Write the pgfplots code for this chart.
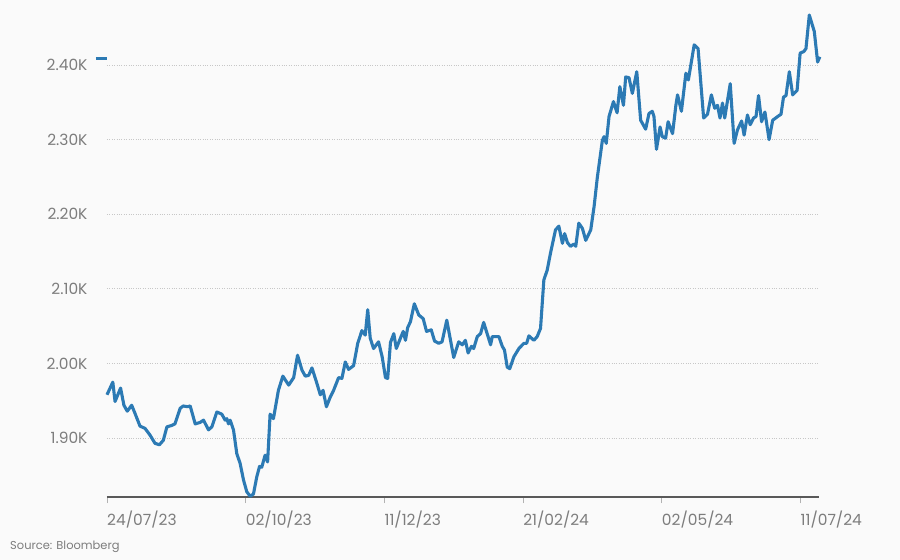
\documentclass[border=0pt]{standalone}
\usepackage{pgfplots}
\pgfplotsset{compat=1.18}
\usepackage{fontspec}
\setmainfont{Poppins}
\definecolor{line}{RGB}{44,122,180}
\definecolor{lbl}{RGB}{125,125,125}
\definecolor{bg}{RGB}{250,250,250}
\begin{document}
\begin{tikzpicture}
\useasboundingbox[fill=bg] (-107bp,-63bp) rectangle (793bp,497bp);
\begin{axis}[
  at={(0,0)}, anchor=south west,
  scale only axis, width=712bp, height=484.2bp,
  xmin=0, xmax=256.7, ymin=1821, ymax=2470,
  clip=false,
  axis x line*=bottom, axis y line*=left,
  x axis line style={draw=black!65, line width=1.3bp, -},
  y axis line style={draw=none},
  xtick={0,50,100,150,200,250},
  xticklabels={24/07/23,02/10/23,11/12/23,21/02/24,02/05/24,11/07/24},
  x tick style={draw=black!30, line width=0.8bp},
  major tick length=6bp,
  tick align=outside,
  xticklabel style={anchor=north west, inner xsep=0pt, yshift=-4bp, text=lbl, font=\fontsize{15.5}{18}\selectfont},
  ytick={1900,2000,2100,2200,2300,2400},
  yticklabels={1.90K,2.00K,2.10K,2.20K,2.30K,2.40K},
  ymajorgrids,
  grid style={draw=black!22, dotted, line width=0.9bp},
  yticklabel style={text=lbl, font=\fontsize{15.5}{18}\selectfont, xshift=-10bp},
  y tick style={draw=none},
]
\addplot[line, line width=3.1bp, line join=round] coordinates {
(0,1958)(2.1,1975)(2.9,1949)(4.9,1967)(6.1,1944)(7.3,1936)(8.9,1944)(10.1,1933)
(11.9,1916)(13.7,1913)(15.5,1904)(17.3,1893)(18.9,1891)(20.3,1897)(21.6,1915)
(23.4,1917)(24.5,1919)(26.4,1940)(27.5,1943)(29.0,1942)(30.0,1943)(31.8,1919)
(33.6,1921)(34.8,1924)(36.6,1911)(37.8,1915)(39.6,1935)(41.4,1932)(42.6,1924)
(43.2,1926)(43.8,1919)(44.4,1924)(45.6,1911)(46.8,1879)(48.0,1866)(49.2,1844)
(50.4,1828)(51.6,1822)(52.8,1825)(54.0,1848)(55.0,1862)(55.8,1861)(57.0,1877)
(57.9,1868)(58.8,1932)(60.0,1926)(61.8,1964)(63.4,1983)(65.5,1971)(67.3,1981)
(68.7,2011)(70.3,1991)(71.5,1983)(72.7,1984)(73.9,1994)(75.7,1973)(76.9,1958)
(77.9,1964)(79.1,1942)(80.5,1955)(81.7,1964)(83.5,1981)(84.7,1980)(85.9,2002)
(87.1,1992)(88.9,1997)(90.4,2027)(91.9,2044)(93.1,2038)(94.0,2072)(94.9,2034)
(96.1,2020)(97.9,2029)(99.2,2009)(100.4,1981)(101.2,1980)(102.2,2028)(103.4,2040)
(104.3,2020)(105.8,2034)(106.8,2043)(107.6,2031)(108.4,2048)(109.4,2056)(110.8,2080)
(112.4,2065)(114.0,2060)(115.2,2043)(116.9,2045)(118.1,2030)(119.6,2027)(120.8,2029)
(122.5,2058)(125.0,2008)(126.8,2029)(128.1,2025)(129.2,2031)(130.2,2014)(131.4,2023)
(132.2,2020)(133.5,2036)(134.7,2040)(135.8,2055)(136.8,2043)(138.3,2025)(138.9,2036)
(141.3,2036)(142.5,2023)(143.3,2018)(144.3,1995)(145.2,1993)(146.7,2009)(148.5,2020)
(150.3,2027)(151.3,2027)(152.1,2037)(153.9,2031)(155.1,2036)(156.3,2047)(157.5,2112)
(158.7,2125)(159.9,2148)(161.7,2179)(162.9,2184)(164.2,2161)(165.0,2174)(166.0,2162)
(167.1,2157)(168.3,2160)(169.0,2157)(170.1,2188)(171.4,2181)(172.6,2165)(174.4,2179)
(175.6,2210)(176.8,2250)(178.6,2299)(179.2,2304)(180.0,2295)(181.0,2331)(182.6,2351)
(183.9,2336)(184.9,2371)(186.2,2346)(187.0,2384)(188.2,2383)(189.4,2362)(191.0,2391)
(192.4,2326)(194.2,2314)(195.4,2335)(196.6,2338)(197.2,2331)(198.1,2287)(199.4,2317)
(200.2,2304)(201.4,2302)(202.3,2324)(203.9,2308)(205.1,2346)(205.7,2360)(207.1,2338)
(208.7,2389)(209.6,2380)(211.7,2427)(213.1,2422)(215.1,2329)(216.5,2334)(217.9,2360)
(219.1,2342)(220.1,2346)(221.0,2329)(221.9,2349)(222.7,2329)(224.7,2375)(226.1,2295)
(227.3,2313)(228.8,2325)(229.7,2306)(230.9,2333)(231.9,2320)(233.1,2329)(234.0,2331)
(234.9,2359)(236.0,2324)(237.2,2337)(238.7,2300)(240.0,2326)(241.8,2331)(243.0,2334)
(243.9,2357)(244.8,2359)(246.0,2391)(247.2,2360)(248.8,2366)(249.9,2416)(251.2,2418)
(252.0,2422)(253.2,2467)(255.0,2445)(256.2,2404)(257.0,2411)
};
\addplot[line, line width=3.1bp, forget plot] coordinates {(-4,2409)(0,2409)};
\end{axis}
\node[anchor=west, text=lbl, font=\fontsize{11.5}{13}\selectfont, inner sep=0pt] at (-97bp,-50bp) {Source: Bloomberg};
\end{tikzpicture}
\end{document}
